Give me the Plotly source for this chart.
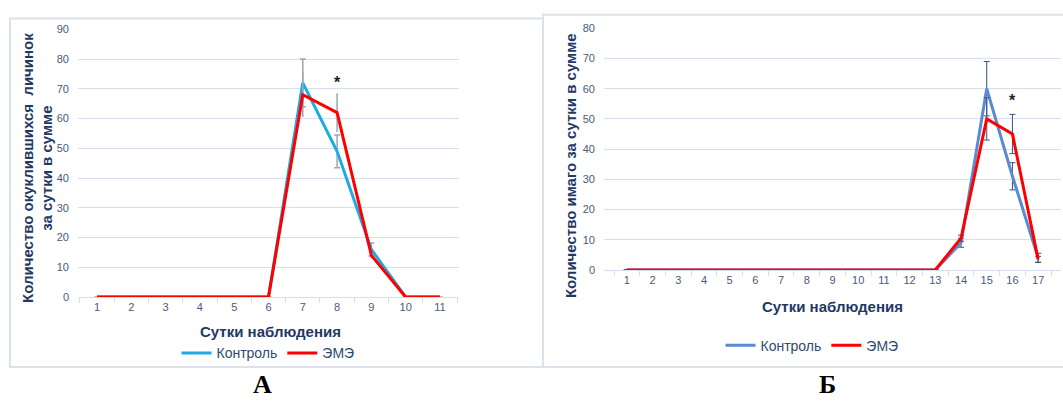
import plotly.graph_objects as go

# ---- Panel A data ----
days_a = [str(i) for i in range(1, 12)]
ctrl_a = [0, 0, 0, 0, 0, 0, 72, 49, 16, 0, 0]
eme_a = [0, 0, 0, 0, 0, 0, 68, 62, 14, 0, 0]
ctrl_a_err = [None, None, None, None, None, None, 8, 5.5, 2.2, None, None]
eme_a_err = [None, None, None, None, None, None, 7.5, 6.5, 1.0, None, None]
yticks_a = [0, 10, 20, 30, 40, 50, 60, 70, 80, 90]
star_a = ("8", 72)

# ---- Panel B data ----
days_b = [str(i) for i in range(1, 18)]
ctrl_b = [0] * 13 + [9, 60, 31, 4]
eme_b = [0] * 13 + [10.5, 50, 45, 3.5]
ctrl_b_err = [None] * 13 + [1.5, 9, 4.5, 1.5]
eme_b_err = [None] * 13 + [1.0, 7, 6.5, 1.0]
yticks_b = [0, 10, 20, 30, 40, 50, 60, 70, 80]
star_b = ("16", 56)

W, H = 1063, 403
def px(x):
    return x / W
def py(y):
    return 1 - y / H

TXT = "#1F3864"
TICK = "#4A5A78"
LEG = "#2F4A6E"
GRID = "#D6E0EC"
FONT = "Liberation Sans, Arial, sans-serif"

fig = go.Figure()

fig.add_trace(go.Scatter(x=days_a, y=ctrl_a, name="Контроль", mode="lines",
                         line=dict(color="#1FAAE3", width=3),
                         error_y=dict(type="data", array=ctrl_a_err, color="#9AA6B6",
                                      thickness=1.5, width=3),
                         xaxis="x", yaxis="y", legend="legend"))
fig.add_trace(go.Scatter(x=days_a, y=eme_a, name="ЭМЭ", mode="lines",
                         line=dict(color="#FF0000", width=3),
                         error_y=dict(type="data", array=eme_a_err, color="#9AA6B6",
                                      thickness=1.5, width=0),
                         xaxis="x", yaxis="y", legend="legend"))

fig.add_trace(go.Scatter(x=days_b, y=ctrl_b, name="Контроль", mode="lines",
                         line=dict(color="#5A8AD0", width=3),
                         error_y=dict(type="data", array=ctrl_b_err, color="#3A5380",
                                      thickness=1, width=3),
                         xaxis="x2", yaxis="y2", legend="legend2"))
fig.add_trace(go.Scatter(x=days_b, y=eme_b, name="ЭМЭ", mode="lines",
                         line=dict(color="#FF0000", width=3),
                         error_y=dict(type="data", array=eme_b_err, color="#3A5380",
                                      thickness=1, width=3),
                         xaxis="x2", yaxis="y2", legend="legend2"))

xcommon = dict(type="category", tickson="boundaries", ticks="outside", ticklen=5,
               tickcolor=GRID, showgrid=False, showline=True, linecolor=GRID, linewidth=1,
               tickfont=dict(size=11, color=TICK, family=FONT), fixedrange=True)
ycommon = dict(showgrid=True, gridcolor=GRID, gridwidth=1, zeroline=False, showline=False,
               ticks="", tickfont=dict(size=11, color=TICK, family=FONT),
               ticklabelstandoff=8)

fig.update_layout(
    width=W, height=H, margin=dict(l=0, r=0, t=0, b=0),
    paper_bgcolor="white", plot_bgcolor="white",
    font=dict(family=FONT, color=TXT),
    xaxis=dict(domain=[px(78), px(459)], anchor="y", **xcommon),
    yaxis=dict(domain=[py(300), py(24)], anchor="x", range=[0, 90], tickvals=yticks_a, **ycommon),
    xaxis2=dict(domain=[px(604), px(1061)], anchor="y2", **xcommon),
    yaxis2=dict(domain=[py(272), py(23)], anchor="x2", range=[0, 80], tickvals=yticks_b, **ycommon),
    legend=dict(orientation="h", x=px(268), y=py(358), xanchor="center", yanchor="middle",
                font=dict(size=14, color=LEG, family=FONT), bgcolor="rgba(0,0,0,0)",
                itemwidth=30, tracegroupgap=0),
    legend2=dict(orientation="h", x=px(812), y=py(350), xanchor="center", yanchor="middle",
                 font=dict(size=14, color=LEG, family=FONT), bgcolor="rgba(0,0,0,0)",
                 itemwidth=30, tracegroupgap=0),
    showlegend=True,
)

# frames
fig.add_shape(type="rect", xref="paper", yref="paper", x0=px(10), x1=px(543), y0=py(372), y1=py(13),
              line=dict(color="#D9E2EE", width=2), layer="below")
fig.add_shape(type="rect", xref="paper", yref="paper", x0=px(543), x1=px(1066), y0=py(372), y1=py(9),
              line=dict(color="#D9E2EE", width=2), layer="below")

def A(text, x, y, size=15, color=TXT, family=FONT, angle=0, xref="paper", yref="paper"):
    return dict(text=text, x=x, y=y, xref=xref, yref=yref, textangle=angle, showarrow=False,
                xanchor="center", yanchor="middle", align="center",
                font=dict(size=size, color=color, family=family))

SERIF = "Liberation Serif, Times New Roman, serif"
ann = [
    A("<b>Количество окуклившихся  личинок<br>за сутки в сумме</b>", px(37), py(167), angle=-90),
    A("<b>Сутки наблюдения</b>", px(270), py(335)),
    A("<b>Количество имаго за сутки в сумме</b>", px(570), py(165), angle=-90),
    A("<b>Сутки наблюдения</b>", px(832), py(310)),
    A("<b>*</b>", days_a.index(star_a[0]), star_a[1], size=16, color="#222222", xref="x", yref="y"),
    A("<b>*</b>", days_b.index(star_b[0]), star_b[1], size=16, color="#222222", xref="x2", yref="y2"),
    A("<b>А</b>", px(262), py(390), size=26, color="#000000", family=SERIF),
    A("<b>Б</b>", px(827), py(390), size=26, color="#000000", family=SERIF),
]
fig.update_layout(annotations=ann)

fig.write_html("out.html", config={"displayModeBar": False},
               post_script="document.body.style.margin='0px';document.body.style.overflow='hidden';")
